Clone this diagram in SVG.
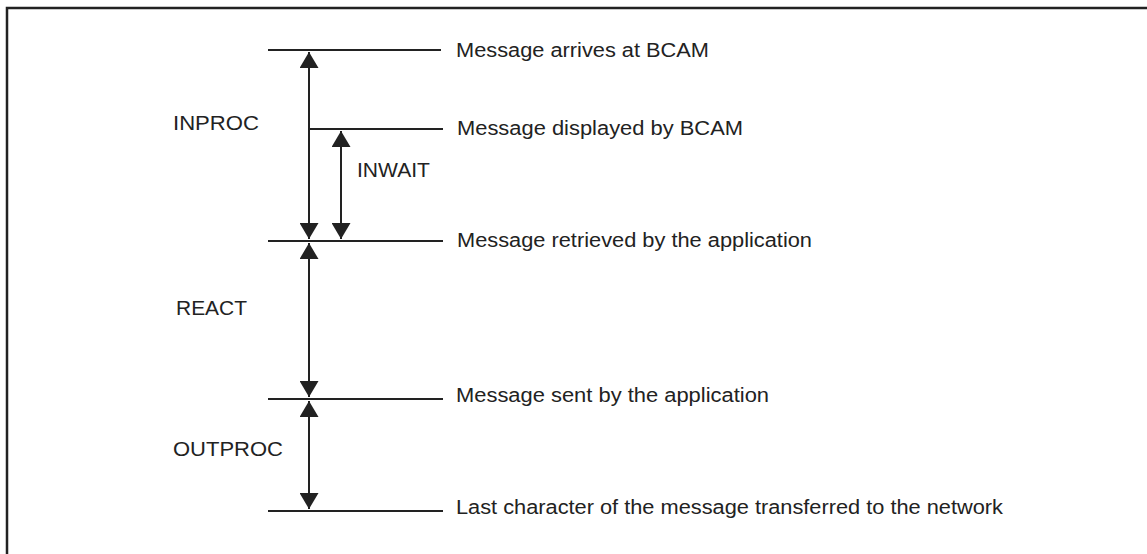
<svg xmlns="http://www.w3.org/2000/svg" width="1147" height="554" viewBox="0 0 1147 554">
  <style>
    .t { font-family: "Liberation Sans", Arial, sans-serif; font-size: 20px; fill: #222; }
    .ln { stroke: #222; stroke-width: 2; fill: none; }
    .ar { stroke: #222; stroke-width: 2; fill: none; marker-start: url(#ah); marker-end: url(#ah); }
  </style>
  <defs>
    <marker id="ah" markerUnits="userSpaceOnUse" markerWidth="17" markerHeight="19" refX="16" refY="9.5" orient="auto-start-reverse" viewBox="0 0 17 19">
      <path d="M0,0 L16,9.5 L0,19 Z" fill="#222"/>
    </marker>
  </defs>
  <rect width="1147" height="554" fill="#fff"/>
  <g id="frame">
    <path d="M7,554 V8 H1147" stroke="#222" stroke-width="2.5" fill="none"/>
  </g>
  <g id="connectors">
    <line class="ar" x1="309" y1="52" x2="309" y2="239"/>
    <line class="ar" x1="341" y1="131" x2="341" y2="239"/>
    <line class="ar" x1="309" y1="243" x2="309" y2="397"/>
    <line class="ar" x1="309" y1="401" x2="309" y2="509"/>
  </g>
  <g id="arrives">
    <line class="ln" x1="268" y1="50" x2="441" y2="50"/>
    <text class="t" x="456" y="57" textLength="253" lengthAdjust="spacingAndGlyphs">Message arrives at BCAM</text>
  </g>
  <g id="displayed">
    <line class="ln" x1="310" y1="129" x2="443" y2="129"/>
    <text class="t" x="457" y="135" textLength="286" lengthAdjust="spacingAndGlyphs">Message displayed by BCAM</text>
  </g>
  <g id="retrieved">
    <line class="ln" x1="268" y1="241" x2="443" y2="241"/>
    <text class="t" x="457" y="247" textLength="355" lengthAdjust="spacingAndGlyphs">Message retrieved by the application</text>
  </g>
  <g id="sent">
    <line class="ln" x1="268" y1="399" x2="443" y2="399"/>
    <text class="t" x="456" y="402" textLength="313" lengthAdjust="spacingAndGlyphs">Message sent by the application</text>
  </g>
  <g id="last">
    <line class="ln" x1="268" y1="511" x2="443" y2="511"/>
    <text class="t" x="456" y="514" textLength="547" lengthAdjust="spacingAndGlyphs">Last character of the message transferred to the network</text>
  </g>
  <g id="inproc">
    <text class="t" x="173" y="130" textLength="86" lengthAdjust="spacingAndGlyphs">INPROC</text>
  </g>
  <g id="inwait">
    <text class="t" x="357" y="177" textLength="73" lengthAdjust="spacingAndGlyphs">INWAIT</text>
  </g>
  <g id="react">
    <text class="t" x="176" y="315" textLength="71" lengthAdjust="spacingAndGlyphs">REACT</text>
  </g>
  <g id="outproc">
    <text class="t" x="173" y="456" textLength="110" lengthAdjust="spacingAndGlyphs">OUTPROC</text>
  </g>
</svg>
